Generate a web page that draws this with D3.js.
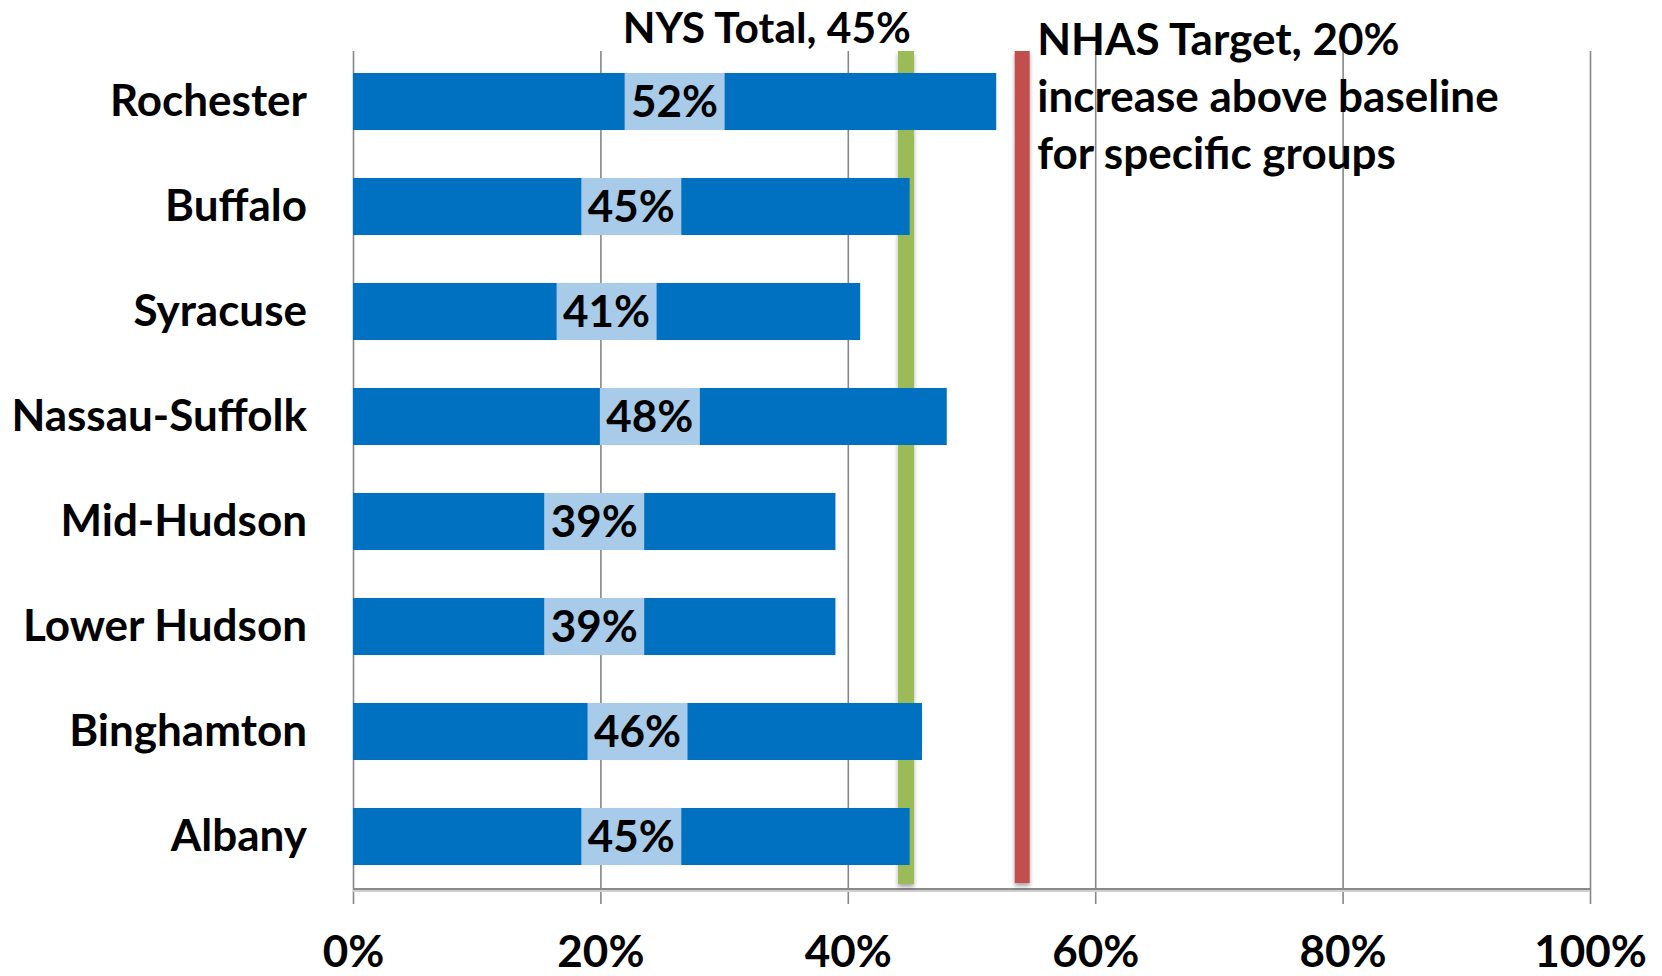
<!DOCTYPE html>
<html>
<head>
<meta charset="utf-8">
<script src="https://cdn.jsdelivr.net/npm/d3@7"></script>
<style>
  body { margin: 0; background: #fff; }
  svg { display: block; font-family: Lato, "Open Sans", sans-serif; font-weight: bold; }
</style>
</head>
<body>
<svg id="grafico" width="1662" height="976"></svg>
<script>
// dados do gráfico ------------------------------------------------------
const categories = ["Rochester", "Buffalo", "Syracuse", "Nassau-Suffolk", "Mid-Hudson", "Lower Hudson", "Binghamton", "Albany"];
const values = [0.52, 0.45, 0.41, 0.48, 0.39, 0.39, 0.46, 0.45];
const tickValues = [0, 0.2, 0.4, 0.6, 0.8, 1.0];
const nysTotal = 0.447;
const nysLabel = ["NYS Total, 45%"];
const nhasTarget = 0.541;
const nhasLabel = ["NHAS Target, 20%", "increase above baseline", "for specific groups"];

const margin = {top: 49, right: 72, bottom: 87, left: 353};
const width = 1662 - margin.left - margin.right;
const height = 976 - margin.top - margin.bottom;

const svg = d3.select("#grafico");

// sombra das linhas de referência
const defs = svg.append("defs");
defs.append("filter").attr("id", "sombra")
    .attr("x", "-50%").attr("y", "-5%").attr("width", "200%").attr("height", "110%")
  .append("feDropShadow")
    .attr("dx", 0).attr("dy", 3).attr("stdDeviation", 2)
    .attr("flood-color", "#000").attr("flood-opacity", 0.35);

const g = svg.append("g").attr("transform", "translate(" + margin.left + "," + margin.top + ")");

// escalas
const x = d3.scaleLinear().domain([0, 1]).range([0, width]);
const y = d3.scaleBand().domain(categories).range([0, height]).paddingInner(0.457).paddingOuter(0.2285);

// eixo X com as linhas de grade (ticks vão até o topo)
const gridTop = 2;
const xAxisY = height + 15;
const xAxis = d3.axisBottom(x)
    .tickValues(tickValues)
    .tickFormat(d3.format(".0%"))
    .tickSizeInner(-(xAxisY - gridTop))
    .tickSizeOuter(0)
    .tickPadding(0);

const gx = g.append("g")
    .attr("transform", "translate(0," + xAxisY + ")")
    .call(xAxis);
gx.select(".domain").remove();
gx.selectAll(".tick line").attr("stroke", "#878787").attr("stroke-width", 1.6);
gx.selectAll(".tick text")
    .attr("y", 63).attr("dy", 0)
    .attr("fill", "#000")
    .style("font-size", "44px")
    .style("font-family", "Lato, sans-serif")
    .style("font-weight", "bold");

// linha do eixo (com sombra clara)
g.append("line")
    .attr("x1", x(0)).attr("x2", x(1))
    .attr("y1", height + 2).attr("y2", height + 2)
    .attr("stroke", "#cfcfcf").attr("stroke-width", 2);
g.append("line")
    .attr("x1", x(0)).attr("x2", x(1))
    .attr("y1", height).attr("y2", height)
    .attr("stroke", "#8a8a8a").attr("stroke-width", 2);

// eixo Y (categorias)
const yAxis = d3.axisLeft(y).tickSize(0).tickPadding(46);
const gy = g.append("g").call(yAxis);
gy.select(".domain").remove();
gy.selectAll(".tick text")
    .attr("fill", "#000")
    .style("font-size", "44px")
    .style("font-family", "Lato, sans-serif")
    .style("font-weight", "bold");

// linhas de referência (ficam atrás das barras)
const lineTop = 2;
const lineBottom = height - 5;
g.append("rect")
    .attr("x", x(nysTotal) - 8).attr("width", 16)
    .attr("y", lineTop).attr("height", lineBottom - lineTop)
    .attr("fill", "#9BBB59")
    .attr("filter", "url(#sombra)");
g.append("rect")
    .attr("x", x(nhasTarget) - 7.5).attr("width", 15)
    .attr("y", lineTop).attr("height", lineBottom - lineTop - 1)
    .attr("fill", "#C0504D")
    .attr("filter", "url(#sombra)");

// barras
const bars = g.selectAll(".barra")
    .data(categories.map((c, i) => ({categorie: c, value: values[i]})))
    .enter()
    .append("g")
    .attr("class", "barra")
    .attr("transform", d => "translate(0," + y(d.categorie) + ")");

bars.append("rect")
    .attr("x", x(0))
    .attr("y", 0)
    .attr("width", d => x(d.value) - x(0))
    .attr("height", y.bandwidth())
    .attr("fill", "#0070C0");

// rótulos com fundo azul claro no centro da barra
const labels = bars.append("text")
    .attr("x", d => (x(0) + x(d.value)) / 2)
    .attr("y", y.bandwidth() / 2)
    .attr("dy", "0.36em")
    .attr("text-anchor", "middle")
    .style("font-size", "44px")
    .attr("fill", "#000")
    .text(d => d3.format(".0%")(d.value));

labels.each(function() {
    const bb = this.getBBox();
    d3.select(this.parentNode).insert("rect", "text")
        .attr("x", bb.x + bb.width / 2 - 50)
        .attr("y", 0)
        .attr("width", 100)
        .attr("height", y.bandwidth())
        .attr("fill", "#A7CBE8");
});

// texto NYS Total
g.append("text")
    .attr("x", x(nysTotal) + 5)
    .attr("y", 43 - margin.top)
    .attr("text-anchor", "end")
    .style("font-size", "42.5px")
    .attr("fill", "#000")
    .text(nysLabel[0]);

// texto NHAS Target
g.append("text")
    .attr("x", x(nhasTarget) + 15)
    .attr("y", 55 - margin.top)
    .style("font-size", "44px")
    .attr("fill", "#000")
    .selectAll("tspan")
    .data(nhasLabel)
    .enter()
    .append("tspan")
    .attr("x", x(nhasTarget) + 15)
    .attr("dy", (d, i) => i === 0 ? 0 : 57)
    .text(d => d);
</script>
</body>
</html>
